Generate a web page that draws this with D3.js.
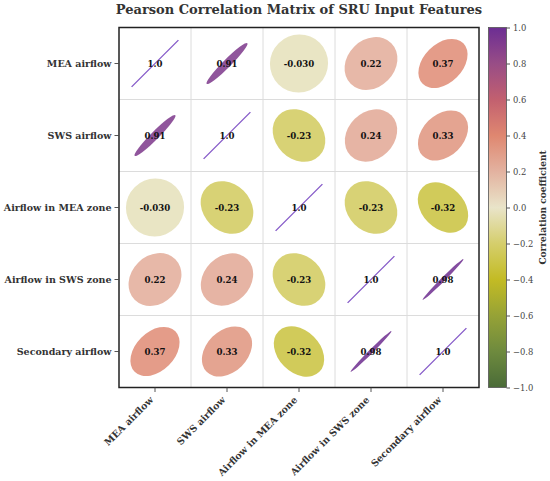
<!DOCTYPE html>
<html>
<head>
<meta charset="utf-8">
<script src="https://cdn.jsdelivr.net/npm/d3@7"></script>
<style>
  body { margin: 0; background: #fff; }
  svg { display: block; font-family: "DejaVu Serif", serif; }
</style>
</head>
<body>
<svg width="550" height="481"></svg>
<script>
const features = ["MEA airflow", "SWS airflow", "Airflow in MEA zone", "Airflow in SWS zone", "Secondary airflow"];

const corrMEA       = [1.0, 0.91, -0.030, 0.22, 0.37];
const corrSWS       = [0.91, 1.0, -0.23, 0.24, 0.33];
const corrMEAZone   = [-0.030, -0.23, 1.0, -0.23, -0.32];
const corrSWSZone   = [0.22, 0.24, -0.23, 1.0, 0.98];
const corrSecondary = [0.37, 0.33, -0.32, 0.98, 1.0];
const matrix = [corrMEA, corrSWS, corrMEAZone, corrSWSZone, corrSecondary];

const cbTicks = [-1.0, -0.8, -0.6, -0.4, -0.2, 0.0, 0.2, 0.4, 0.6, 0.8, 1.0];
const cmapStops = [-1, -0.8, -0.6, -0.4, -0.2, 0, 0.2, 0.4, 0.6, 0.8, 1];
const cmapColors = ["#4a6b38", "#6e8a3e", "#96a236", "#c3bb24", "#d5ce6c", "#e9e4c9",
                    "#e3b2a0", "#df8770", "#c2606f", "#984d86", "#6c2e93"];

const svg = d3.select('svg');
const plotL = 119, plotR = 479, plotT = 27.5, plotB = 387.5;

const color = d3.scaleLinear().domain(cmapStops).range(cmapColors).interpolate(d3.interpolateRgb);
const x = d3.scaleBand().domain(features).range([plotL, plotR]);
const y = d3.scaleBand().domain(features).range([plotT, plotB]);
const cell = x.bandwidth();

const fmt = v => Math.abs(v) === 1 ? v.toFixed(1) : (Math.abs(v) < 0.1 ? v.toFixed(3) : v.toFixed(2));

// title
svg.append('text')
  .attr('x', (plotL + plotR) / 2)
  .attr('y', 14)
  .attr('text-anchor', 'middle')
  .attr('font-size', 13)
  .attr('font-weight', 'bold')
  .attr('fill', '#333')
  .text('Pearson Correlation Matrix of SRU Input Features');

// grid lines
const grid = svg.append('g').attr('stroke', '#dcdcdc').attr('stroke-width', 1);
features.slice(1).forEach(f => {
  grid.append('line').attr('x1', x(f)).attr('x2', x(f)).attr('y1', plotT).attr('y2', plotB);
  grid.append('line').attr('y1', y(f)).attr('y2', y(f)).attr('x1', plotL).attr('x2', plotR);
});

const cells = [];
matrix.forEach((row, i) => row.forEach((v, j) => cells.push({ row: features[i], col: features[j], v, diag: i === j })));

const a = cell * 0.4;

const g = svg.append('g');
g.selectAll('ellipse')
  .data(cells.filter(d => !d.diag))
  .join('ellipse')
  .attr('transform', d => `translate(${x(d.col) + cell / 2},${y(d.row) + cell / 2}) rotate(${d.v > 0 ? -45 : 45})`)
  .attr('rx', a)
  .attr('ry', d => a * (1 - Math.abs(d.v)) + 1.4)
  .attr('fill', d => color(d.v))
  .attr('fill-opacity', 0.87);

const half = cell * 0.325;
g.selectAll('line')
  .data(cells.filter(d => d.diag))
  .join('line')
  .attr('x1', d => x(d.col) + cell / 2 - half)
  .attr('y1', d => y(d.row) + cell / 2 + half)
  .attr('x2', d => x(d.col) + cell / 2 + half)
  .attr('y2', d => y(d.row) + cell / 2 - half)
  .attr('stroke', '#8458c8')
  .attr('stroke-width', 1.3);

g.selectAll('text')
  .data(cells)
  .join('text')
  .attr('x', d => x(d.col) + cell / 2)
  .attr('y', d => y(d.row) + cell / 2)
  .attr('dy', '0.35em')
  .attr('text-anchor', 'middle')
  .attr('font-size', 8.6)
  .attr('font-weight', 'bold')
  .attr('fill', '#111')
  .text(d => fmt(d.v));

// frame
svg.append('rect')
  .attr('x', plotL).attr('y', plotT)
  .attr('width', plotR - plotL).attr('height', plotB - plotT)
  .attr('fill', 'none').attr('stroke', '#222').attr('stroke-width', 1.5);

// y axis
const yAxis = svg.append('g');
features.forEach(f => {
  const cy = y(f) + cell / 2;
  yAxis.append('line').attr('x1', plotL - 4.5).attr('x2', plotL).attr('y1', cy).attr('y2', cy)
    .attr('stroke', '#444').attr('stroke-width', 0.9);
  yAxis.append('text').attr('x', plotL - 7.5).attr('y', cy).attr('dy', '0.35em')
    .attr('text-anchor', 'end').attr('font-size', 9.5).attr('font-weight', 'bold').attr('fill', '#333')
    .text(f);
});

// x axis
const xAxis = svg.append('g');
features.forEach(f => {
  const cx = x(f) + cell / 2;
  xAxis.append('line').attr('x1', cx).attr('x2', cx).attr('y1', plotB).attr('y2', plotB + 4.5)
    .attr('stroke', '#444').attr('stroke-width', 0.9);
  xAxis.append('text')
    .attr('transform', `translate(${cx - 1},${plotB + 13}) rotate(-45)`)
    .attr('text-anchor', 'end').attr('font-size', 9.5).attr('font-weight', 'bold').attr('fill', '#333')
    .text(f);
});

// colorbar
const cbX = 488.5, cbW = 18;
const cbScale = d3.scaleLinear().domain([-1, 1]).range([plotB, plotT]);
const grad = svg.append('defs').append('linearGradient')
  .attr('id', 'cbgrad').attr('x1', 0).attr('y1', 1).attr('x2', 0).attr('y2', 0);
d3.range(0, 1.0001, 0.05).forEach(t => {
  grad.append('stop').attr('offset', t).attr('stop-color', color(-1 + 2 * t));
});
svg.append('rect')
  .attr('x', cbX).attr('y', plotT).attr('width', cbW).attr('height', plotB - plotT)
  .attr('fill', 'url(#cbgrad)').attr('stroke', '#555').attr('stroke-width', 0.8);

const cbAxis = svg.append('g')
  .attr('transform', `translate(${cbX + cbW},0)`)
  .call(d3.axisRight(cbScale).tickValues(cbTicks).tickSize(3.5).tickPadding(3)
    .tickFormat(d => d3.format('.1f')(d).replace('-', '\u2212')));
cbAxis.select('.domain').remove();
cbAxis.selectAll('.tick line').attr('stroke', '#555');
cbAxis.selectAll('.tick text').attr('font-family', '"DejaVu Serif", serif').attr('font-size', 8.4).attr('fill', '#444');

svg.append('text')
  .attr('transform', `translate(543,${(plotT + plotB) / 2}) rotate(-90)`)
  .attr('text-anchor', 'middle').attr('dy', '0.35em')
  .attr('font-size', 9).attr('font-weight', 'bold').attr('fill', '#333')
  .text('Correlation coefficient');
</script>
</body>
</html>
